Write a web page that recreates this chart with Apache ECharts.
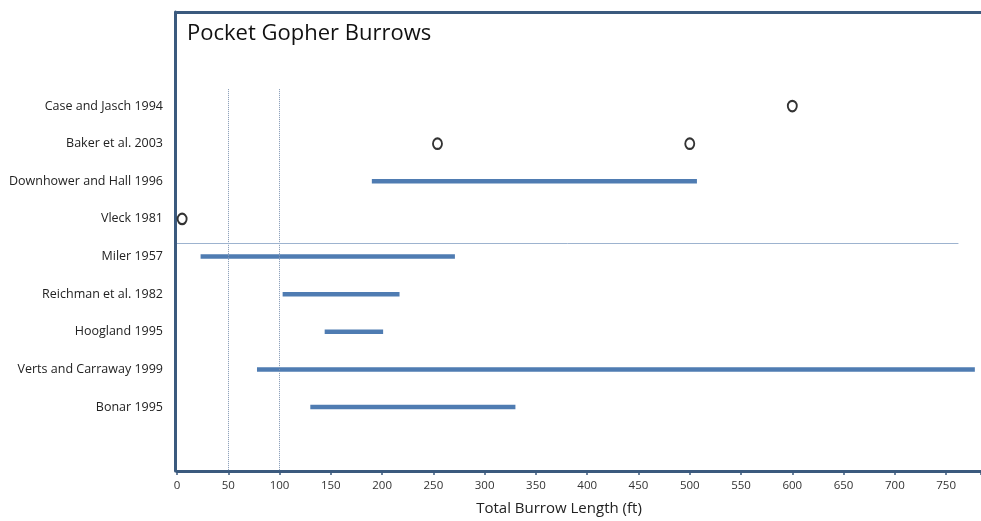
<!DOCTYPE html>
<html>
<head>
<meta charset="utf-8">
<script src="https://cdn.jsdelivr.net/npm/echarts@6/dist/echarts.min.js"></script>
<style>
html,body{margin:0;padding:0;background:#fff;}
#chart{width:981px;height:521px;}
</style>
</head>
<body>
<div id="chart"></div>
<script>
const studies = ['Case and Jasch 1994','Baker et al. 2003','Downhower and Hall 1996','Vleck 1981','Miler 1957','Reichman et al. 1982','Hoogland 1995','Verts and Carraway 1999','Bonar 1995'];
const rangeStart = [null, null, 190, null, 23, 103, 144, 78, 130];
const rangeEnd   = [null, null, 507, null, 271, 217, 201, 778, 330];
const pointStudy = [0, 1, 1, 3];
const pointValue = [600, 254, 500, 5];
const xTicks = [0,50,100,150,200,250,300,350,400,450,500,550,600,650,700,750];
const refLines = [50, 100];
const separatorAt = 3.65;
const separatorEnd = 762;

const FRAME = '#3b5a7e';
const BLUE = '#4f7cb2';
const FONT = '"Open Sans", Lato, sans-serif';

const rangeData = [];
studies.forEach((s, i) => {
  if (rangeStart[i] != null) rangeData.push([rangeStart[i], rangeEnd[i], i]);
});
const pointData = pointStudy.map((s, k) => [pointValue[k], s]);

const chart = echarts.init(document.getElementById('chart'));
chart.setOption({
  animation: false,
  backgroundColor: '#fff',
  title: {
    text: 'Pocket Gopher Burrows',
    left: 182, top: 18,
    textStyle: {fontFamily: FONT, fontSize: 22, fontWeight: 'normal', color: '#111'}
  },
  grid: {left: 177, right: 0, top: 12, bottom: 48},
  xAxis: [{
    type: 'value', min: 0, max: 784, interval: 50,
    position: 'bottom',
    axisLine: {show: true, onZero: false, lineStyle: {color: FRAME, width: 3}},
    axisTick: {show: true, length: 4, lineStyle: {color: FRAME, width: 1.5}},
    axisLabel: {
      fontFamily: FONT, fontSize: 11.5, color: '#333', margin: 9,
      customValues: xTicks
    },
    splitLine: {show: false},
    name: 'Total Burrow Length (ft)',
    nameLocation: 'middle', nameGap: 30,
    nameTextStyle: {fontFamily: FONT, fontSize: 15, color: '#222', padding: [0, 40, 0, 0]}
  }, {
    type: 'value', min: 0, max: 784, position: 'top',
    axisLine: {show: true, onZero: false, lineStyle: {color: FRAME, width: 3}},
    axisTick: {show: false}, axisLabel: {show: false}, splitLine: {show: false}
  }],
  yAxis: {
    type: 'value', inverse: true, min: -2.5, max: 9.7,
    offset: 2,
    axisLine: {show: true, onZero: false, lineStyle: {color: FRAME, width: 3}},
    axisTick: {show: false},
    splitLine: {show: false},
    axisLabel: {
      fontFamily: FONT, fontSize: 12.5, color: '#222', margin: 12,
      customValues: studies.map((s, i) => i),
      formatter: v => studies[Math.round(v)] || ''
    }
  },
  series: [{
    type: 'custom',
    data: rangeData,
    encode: {x: [0, 1], y: 2},
    renderItem: (params, api) => {
      const a = api.coord([api.value(0), api.value(2)]);
      const b = api.coord([api.value(1), api.value(2)]);
      return {
        type: 'line',
        shape: {x1: a[0], y1: a[1], x2: b[0], y2: b[1]},
        style: {stroke: BLUE, lineWidth: 4.5, lineCap: 'butt'}
      };
    },
    markLine: {
      silent: true, symbol: 'none', label: {show: false},
      lineStyle: {color: '#8196b3', width: 1, type: 'dotted'},
      data: refLines.map(v => [{coord: [v, -0.45]}, {coord: [v, 9.7]}]).concat([
        [{coord: [0, separatorAt], lineStyle: {color: '#9db3cf', type: 'solid', width: 1}},
         {coord: [separatorEnd, separatorAt]}]
      ])
    }
  }, {
    type: 'scatter',
    data: pointData,
    symbol: 'emptyCircle',
    symbolSize: [9, 10.5],
    itemStyle: {color: '#000', borderColor: '#000', borderWidth: 2.6},
    z: 5
  }]
});
</script>
</body>
</html>
